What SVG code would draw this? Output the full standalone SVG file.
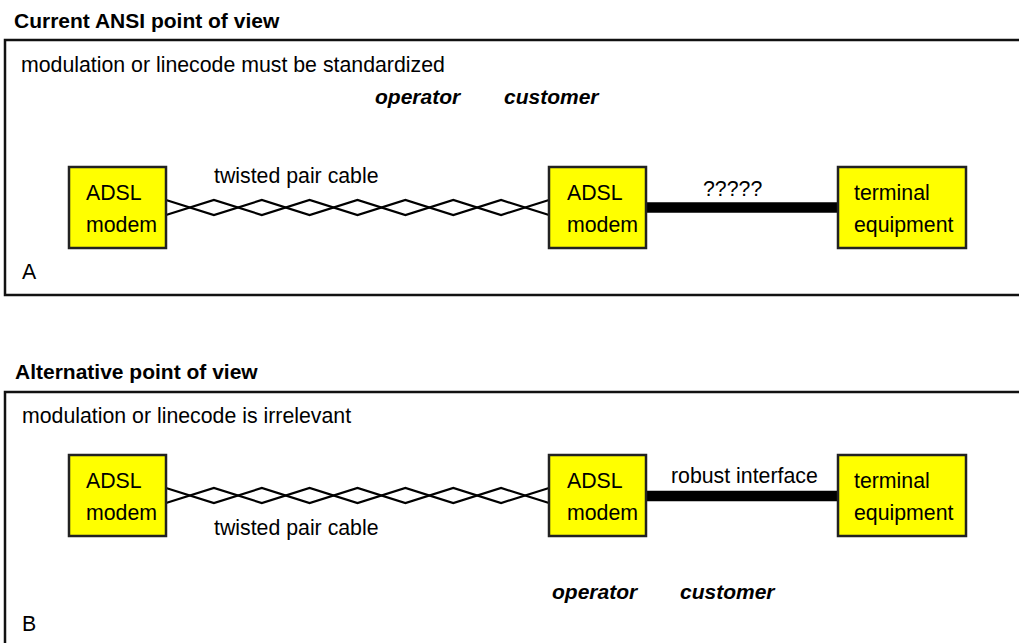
<svg xmlns="http://www.w3.org/2000/svg" width="1019" height="643" viewBox="0 0 1019 643">
<style>
text{font-family:"Liberation Sans",Arial,sans-serif;font-size:21.3px;fill:#000}
.title{font-weight:bold;font-size:21px}
.role{font-weight:bold;font-style:italic;font-size:21px}
.frame{fill:none;stroke:#111;stroke-width:2.5}
.box{fill:#ffff00;stroke:#222;stroke-width:2.5}
.twist{fill:none;stroke:#000;stroke-width:2.2;stroke-linejoin:miter}
.thick{stroke:#000;stroke-width:10.5}
</style>
<rect width="1019" height="643" fill="#fff"/>

<g id="sectionA">
  <text class="title" x="14" y="28">Current ANSI point of view</text>
  <path class="frame" d="M1025,40 H5 V295 H1025"/>
  <text x="21" y="72">modulation or linecode must be standardized</text>
  <text class="role" x="375" y="104">operator</text>
  <text class="role" x="504" y="104">customer</text>
  <text x="22" y="279">A</text>
</g>

<g id="connectorsA">
  <polyline class="twist" points="166,200 213.9,215 261.8,200 309.6,215 357.5,200 405.4,215 453.3,200 501.1,215 549,200"/>
  <polyline class="twist" points="166,215 213.9,200 261.8,215 309.6,200 357.5,215 405.4,200 453.3,215 501.1,200 549,215"/>
  <line class="thick" x1="646" y1="207.5" x2="838" y2="207.5"/>
  <text x="214" y="183">twisted pair cable</text>
  <text x="703" y="196">?????</text>
</g>

<g id="modemA1">
  <rect class="box" x="69" y="167" width="97" height="81"/>
  <text x="86" y="200">ADSL</text>
  <text x="86" y="232">modem</text>
</g>
<g id="modemA2">
  <rect class="box" x="549" y="167" width="97" height="81"/>
  <text x="567" y="200">ADSL</text>
  <text x="567" y="232">modem</text>
</g>
<g id="terminalA">
  <rect class="box" x="838" y="167" width="128" height="81"/>
  <text x="854" y="200">terminal</text>
  <text x="854" y="232">equipment</text>
</g>

<g id="sectionB">
  <text class="title" x="15" y="379">Alternative point of view</text>
  <path class="frame" d="M1025,392 H5 V650 H1025"/>
  <text x="22" y="423">modulation or linecode is irrelevant</text>
  <text class="role" x="552" y="599">operator</text>
  <text class="role" x="680" y="599">customer</text>
  <text x="22" y="631">B</text>
</g>

<g id="connectorsB">
  <polyline class="twist" points="166,488 213.9,503 261.8,488 309.6,503 357.5,488 405.4,503 453.3,488 501.1,503 549,488"/>
  <polyline class="twist" points="166,503 213.9,488 261.8,503 309.6,488 357.5,503 405.4,488 453.3,503 501.1,488 549,503"/>
  <line class="thick" x1="646" y1="496" x2="838" y2="496"/>
  <text x="214" y="535">twisted pair cable</text>
  <text x="671" y="483">robust interface</text>
</g>

<g id="modemB1">
  <rect class="box" x="69" y="455" width="97" height="81"/>
  <text x="86" y="488">ADSL</text>
  <text x="86" y="520">modem</text>
</g>
<g id="modemB2">
  <rect class="box" x="549" y="455" width="97" height="81"/>
  <text x="567" y="488">ADSL</text>
  <text x="567" y="520">modem</text>
</g>
<g id="terminalB">
  <rect class="box" x="838" y="455" width="128" height="81"/>
  <text x="854" y="488">terminal</text>
  <text x="854" y="520">equipment</text>
</g>
</svg>
